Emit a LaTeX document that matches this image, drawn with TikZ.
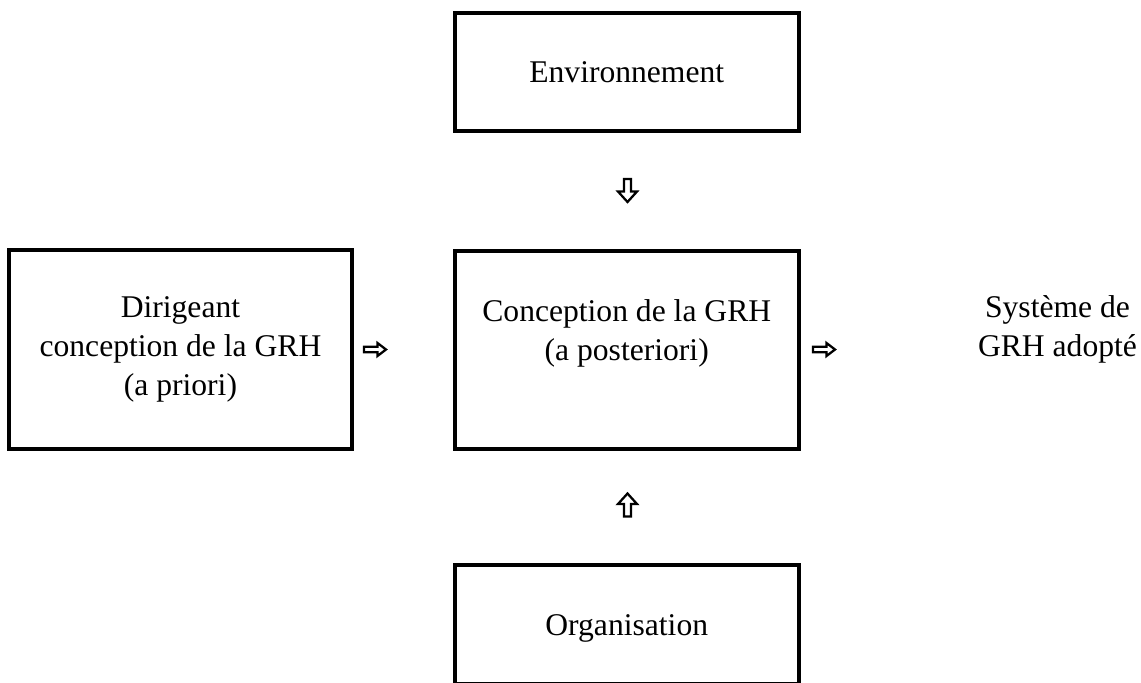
\documentclass[tikz,border=0pt]{standalone}
\usepackage{fontspec}
\setmainfont{Liberation Serif}
\newcommand\diagfont{\fontsize{23.7pt}{29.25pt}\selectfont}
\begin{document}
\begin{tikzpicture}[x=0.75pt,y=-0.75pt,
  box/.style={draw, line width=3pt, rectangle, inner sep=0pt, align=center, font=\diagfont},
  lbl/.style={align=center, inner sep=0pt, font=\diagfont},
  hollow/.style={draw, line width=1.7pt, fill=white, line join=miter},
  rarrow/.pic={\draw[hollow] (-11,-2.8) -- (2.5,-2.8) -- (2.5,-6.5) -- (11,0) -- (2.5,6.5) -- (2.5,2.8) -- (-11,2.8) -- cycle;},
  varrow/.pic={\draw[hollow] (-11.5,-3.5) -- (1,-3.5) -- (1,-9.5) -- (11.5,0) -- (1,9.5) -- (1,3.5) -- (-11.5,3.5) -- cycle;}]
\useasboundingbox (0,0) rectangle (1141,682);

% the four boxes
\node[box, minimum width=344.1*0.75pt, minimum height=117.8*0.75pt] (env) at (626.75,71.9) {Environnement};
\node[box, minimum width=344.1*0.75pt, minimum height=198.2*0.75pt] (conc) at (626.75,349.6)
  {Conception de la GRH\\(a posteriori)\\\mbox{}};
\node[box, minimum width=342.5*0.75pt, minimum height=199.2*0.75pt] (dir) at (180.45,349.1)
  {Dirigeant\\conception de la GRH\\(a priori)};
\node[box, minimum width=344.1*0.75pt, minimum height=119*0.75pt, text depth=0pt] (org) at (626.75,624.8) {Organisation};

% outcome text
\node[lbl] (sys) at (1057.5,329) {Système de\\GRH adopté};

% hollow arrows between the blocks
\pic[rotate=-90] at (627.5,190.5) {varrow};
\pic[rotate=90] at (627.5,505) {varrow};
\pic at (375,349.5) {rarrow};
\pic at (824,349.5) {rarrow};
\end{tikzpicture}
\end{document}
